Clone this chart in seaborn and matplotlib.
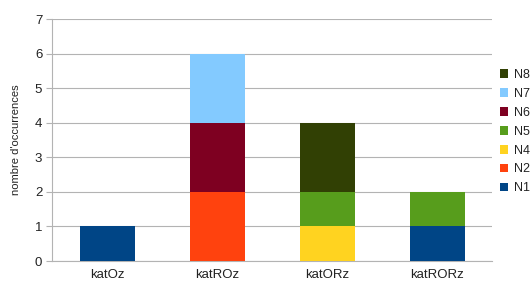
import matplotlib
matplotlib.use("Agg")
import matplotlib.pyplot as plt
import seaborn as sns
import numpy as np
from matplotlib.patches import Patch

categories = ["katOz", "katROz", "katORz", "katRORz"]
series = ["N1", "N2", "N4", "N5", "N6", "N7", "N8"]
N1 = [1, 0, 0, 1]
N2 = [0, 2, 0, 0]
N4 = [0, 0, 1, 0]
N5 = [0, 0, 1, 1]
N6 = [0, 2, 0, 0]
N7 = [0, 2, 0, 0]
N8 = [0, 0, 2, 0]
colors = ["#004586", "#ff420e", "#ffd320", "#579d1c", "#7e0021", "#83caff", "#314004"]

sns.set_style("white")
plt.rcParams['font.family'] = ['Liberation Sans', 'DejaVu Sans']

fig = plt.figure(figsize=(5.3, 2.85), dpi=100)
ax = fig.add_axes([52 / 530, 24 / 285, 440 / 530, 242 / 285])

bottom = np.zeros(len(categories))
for name, vals, col in zip(series, [N1, N2, N4, N5, N6, N7, N8], colors):
    vals = np.array(vals, dtype=float)
    sns.barplot(x=categories, y=vals, bottom=bottom, color=col, width=0.5,
                saturation=1, linewidth=0, ax=ax, zorder=3)
    bottom += vals

ax.set_ylim(0, 7)
ax.set_xlim(-0.5, 3.5)
ax.set_yticks(range(8))
ax.yaxis.grid(True, color="#b3b3b3", linewidth=0.8, zorder=0)
ax.set_axisbelow(True)
for s in ["top", "right"]:
    ax.spines[s].set_visible(False)
for s in ["left", "bottom"]:
    ax.spines[s].set_color("#b3b3b3")
    ax.spines[s].set_linewidth(0.8)

ax.set_xticks([0, 1, 2, 3])
ax.set_xticklabels(categories)
ax.tick_params(axis="x", length=0, labelsize=9.5, labelcolor="#222222", pad=6)
ax.set_xticks([0.5, 1.5, 2.5], minor=True)
ax.tick_params(axis="x", which="minor", length=4, color="#b3b3b3", width=0.8)
ax.tick_params(axis="y", length=4, color="#b3b3b3", width=0.8, labelsize=9.5,
               labelcolor="#222222", pad=3, left=True)
ax.set_ylabel("nombre d'occurrences", fontsize=8, color="#222222", labelpad=10)
ax.set_xlabel("")

handles = [Patch(facecolor=c, edgecolor="none") for c in colors][::-1]
labels = series[::-1]
fig.legend(handles, labels, loc="upper left", bbox_to_anchor=(500 / 530, 216 / 285),
           frameon=False, fontsize=9, handlelength=0.6, handleheight=0.7,
           handletextpad=0.5, labelspacing=0.55, borderaxespad=0, borderpad=0,
           labelcolor="#222222")

fig.savefig("out.png", dpi=100)
